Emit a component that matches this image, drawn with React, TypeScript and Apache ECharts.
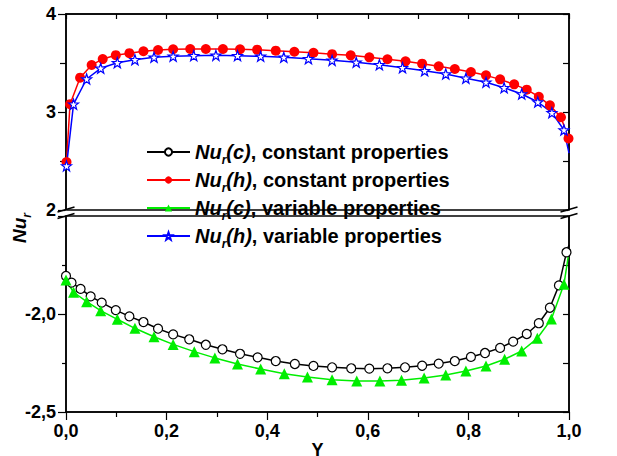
import React, { useEffect, useRef } from "react";
import * as echarts from "echarts";

// Top segment (heating, y from 2 to 4)
const redX = [0.001, 0.008, 0.028, 0.051, 0.073, 0.099, 0.126, 0.154, 0.183, 0.213, 0.247, 0.278, 0.312, 0.346, 0.38, 0.417, 0.454, 0.492, 0.529, 0.566, 0.603, 0.639, 0.675, 0.708, 0.741, 0.773, 0.805, 0.835, 0.863, 0.891, 0.916, 0.94, 0.962, 0.984, 0.999];
const redY = [2.49, 3.08, 3.35, 3.48, 3.54, 3.58, 3.6, 3.62, 3.633, 3.64, 3.643, 3.643, 3.643, 3.64, 3.636, 3.626, 3.615, 3.605, 3.59, 3.578, 3.558, 3.538, 3.517, 3.493, 3.466, 3.439, 3.408, 3.374, 3.333, 3.282, 3.228, 3.156, 3.068, 2.946, 2.73];

const blueX = [0.001, 0.015, 0.041, 0.069, 0.102, 0.137, 0.175, 0.213, 0.254, 0.298, 0.341, 0.387, 0.433, 0.482, 0.529, 0.577, 0.623, 0.669, 0.713, 0.755, 0.795, 0.835, 0.871, 0.906, 0.938, 0.966, 0.99];
const blueY = [2.45, 3.08, 3.337, 3.446, 3.503, 3.534, 3.558, 3.568, 3.575, 3.578, 3.575, 3.568, 3.558, 3.544, 3.527, 3.507, 3.483, 3.452, 3.421, 3.388, 3.344, 3.303, 3.248, 3.184, 3.102, 2.993, 2.816];
const blueEnd = [1.0, 2.58];

// Bottom segment (cooling, y from -2.5 to -1.5)
const blackX = [0.0, 0.011, 0.029, 0.049, 0.071, 0.099, 0.126, 0.154, 0.183, 0.213, 0.245, 0.278, 0.311, 0.346, 0.381, 0.417, 0.455, 0.492, 0.529, 0.567, 0.603, 0.639, 0.674, 0.708, 0.741, 0.773, 0.805, 0.833, 0.863, 0.889, 0.916, 0.94, 0.962, 0.98, 0.995];
const blackY = [-1.806, -1.84, -1.872, -1.91, -1.942, -1.98, -2.012, -2.041, -2.075, -2.104, -2.129, -2.157, -2.18, -2.203, -2.221, -2.24, -2.255, -2.265, -2.272, -2.277, -2.279, -2.277, -2.272, -2.264, -2.253, -2.24, -2.219, -2.199, -2.173, -2.141, -2.102, -2.047, -1.968, -1.854, -1.685];
const blackEnd = [1.0, -1.648];

const greenX = [0.0, 0.015, 0.041, 0.069, 0.102, 0.137, 0.175, 0.213, 0.255, 0.296, 0.341, 0.387, 0.434, 0.48, 0.529, 0.578, 0.624, 0.667, 0.712, 0.755, 0.795, 0.835, 0.872, 0.906, 0.937, 0.965, 0.99];
const greenY = [-1.827, -1.889, -1.937, -1.983, -2.027, -2.073, -2.116, -2.155, -2.192, -2.224, -2.255, -2.281, -2.305, -2.321, -2.335, -2.342, -2.342, -2.338, -2.327, -2.311, -2.291, -2.265, -2.231, -2.189, -2.124, -2.026, -1.848];
const greenEnd = [1.0, -1.682];

const seriesNames = [
  "Nur(c), constant properties",
  "Nur(h), constant properties",
  "Nur(c), variable properties",
  "Nur(h), variable properties",
];
const legendRich = [
  ["(c)", "constant properties"],
  ["(h)", "constant properties"],
  ["(c)", "variable properties"],
  ["(h)", "variable properties"],
];

const FONT = "'Liberation Sans', Arial, Helvetica, sans-serif";
const STAR = "path://M10 0 L12.35 6.76 L19.51 6.91 L13.8 11.24 L15.88 18.09 L10 14 L4.12 18.09 L6.2 11.24 L0.49 6.91 L7.65 6.76 Z";

function pts(xs: number[], ys: number[], end?: number[]) {
  const d: any[] = xs.map((x, i) => [x, ys[i]]);
  if (end) d.push({ value: end, symbol: "none" });
  return d;
}

const comma = (v: number) => v.toFixed(1).replace(".", ",");

export default function App() {
  const ref = useRef<HTMLDivElement>(null);
  useEffect(() => {
    if (!ref.current) return;
    const chart = echarts.init(ref.current, undefined, { renderer: "svg" });
    const axisLine = () => ({ show: true, onZero: false, lineStyle: { color: "#000", width: 1.5 } });
    const tick = (inside: boolean, length: number) => ({ show: true, inside, length, lineStyle: { color: "#000", width: 1.2 } });
    const minor = (length: number) => ({ show: true, splitNumber: 2, length, lineStyle: { color: "#000", width: 1.2 } });
    const labelStyle = () => ({ color: "#000", fontFamily: FONT, fontWeight: "bold" as const, fontSize: 18 });
    const L = 66, R = 569;
    const T1 = 14, B1 = 210, T2 = 216, B2 = 412;
    const W = 1.5;
    // frame: a black panel with a white panel inset on top of it
    const panel = (top: number, bottom: number) => [
      { type: "rect", shape: { x: L - W / 2, y: top - W / 2, width: R - L + W, height: bottom - top + W }, style: { fill: "#000" }, z: -10 },
      { type: "rect", shape: { x: L + W / 2, y: top + W / 2, width: R - L - W, height: bottom - top - W }, style: { fill: "#fff" }, z: -9 },
    ];
    const slash = (cx: number, cy: number) => ({
      type: "line",
      shape: { x1: cx - 8.5, y1: cy + 2.5, x2: cx + 8.5, y2: cy - 2.5 },
      style: { stroke: "#000", lineWidth: 1.5 },
      z: 100,
    });
    chart.setOption({
      animation: false,
      backgroundColor: "#fff",
      grid: [
        { left: L, right: 617 - R, top: T1, height: B1 - T1, outerBoundsMode: "none", containLabel: false },
        { left: L, right: 617 - R, top: T2, height: B2 - T2, outerBoundsMode: "none", containLabel: false },
      ],
      xAxis: [
        {
          gridIndex: 0, type: "value", position: "top", min: 0, max: 1, interval: 0.2,
          axisLine: axisLine(), axisLabel: { show: false }, splitLine: { show: false },
          axisTick: tick(true, 5), minorTick: minor(5),
        },
        {
          gridIndex: 1, type: "value", position: "bottom", min: 0, max: 1, interval: 0.2,
          axisLine: axisLine(), splitLine: { show: false },
          axisLabel: { ...labelStyle(), margin: 10, formatter: comma },
          axisTick: tick(false, 8), minorTick: minor(5),
          name: "Y", nameLocation: "middle", nameGap: 19,
          nameTextStyle: { ...labelStyle(), fontSize: 18, lineHeight: 18 },
        },
      ],
      yAxis: [
        {
          gridIndex: 0, type: "value", position: "left", min: 2, max: 4, interval: 1,
          axisLine: axisLine(), splitLine: { show: false },
          axisLabel: { ...labelStyle(), margin: 10, formatter: (v: number) => String(v) },
          axisTick: tick(false, 8), minorTick: minor(6),
        },
        {
          gridIndex: 0, type: "value", position: "right", min: 2, max: 4, interval: 1,
          axisLine: axisLine(), splitLine: { show: false }, axisLabel: { show: false },
          axisTick: tick(true, 6), minorTick: minor(6),
        },
        {
          gridIndex: 1, type: "value", position: "left", min: -2.5, max: -1.5, interval: 0.5,
          axisLine: axisLine(), splitLine: { show: false },
          axisLabel: { ...labelStyle(), margin: 10, formatter: (v: number) => (v > -1.6 ? "" : comma(v)) },
          axisTick: tick(false, 8), minorTick: minor(4),
        },
        {
          gridIndex: 1, type: "value", position: "right", min: -2.5, max: -1.5, interval: 0.5,
          axisLine: axisLine(), splitLine: { show: false }, axisLabel: { show: false },
          axisTick: tick(true, 6), minorTick: minor(6),
        },
      ],
      legend: {
        orient: "vertical", left: 141, top: 137, itemWidth: 43, itemHeight: 9, itemGap: 4,
        data: seriesNames,
        formatter: (name: string) => {
          const i = seriesNames.indexOf(name);
          return `{i|Nu}{s|r}{i|${legendRich[i][0]}}{b|, ${legendRich[i][1]}}`;
        },
        textStyle: {
          color: "#000",
          rich: {
            i: { fontFamily: FONT, fontWeight: "bold", fontStyle: "italic", fontSize: 20, color: "#000", lineHeight: 22 },
            s: { fontFamily: FONT, fontWeight: "bold", fontStyle: "italic", fontSize: 12, color: "#000", verticalAlign: "bottom", lineHeight: 22, padding: [0, 0, -3, 0] },
            b: { fontFamily: FONT, fontWeight: "bold", fontSize: 20, color: "#000", lineHeight: 22 },
          },
        },
      },
      graphic: [
        ...panel(T1, B1),
        ...panel(T2, B2),
        { type: "rect", shape: { x: L - 1, y: B1 + W / 2, width: 2, height: T2 - B1 - W }, style: { fill: "#fff" }, z: 99 },
        { type: "rect", shape: { x: R - 1, y: B1 + W / 2, width: 2, height: T2 - B1 - W }, style: { fill: "#fff" }, z: 99 },
        slash(L, 209.5), slash(L, 216),
        slash(R, 209.5), slash(R, 216),
        {
          type: "text", x: 19, y: 228, rotation: Math.PI / 2, z: 100,
          style: {
            text: "{i|Nu}{s|r}", align: "center", verticalAlign: "middle",
            rich: {
              i: { fontFamily: FONT, fontWeight: "bold", fontStyle: "italic", fontSize: 19, fill: "#000", lineHeight: 22 },
              s: { fontFamily: FONT, fontWeight: "bold", fontStyle: "italic", fontSize: 12, fill: "#000", verticalAlign: "bottom", lineHeight: 22, padding: [0, 0, -3, 0] },
            },
          },
        },
      ],
      series: [
        {
          name: seriesNames[0], type: "line", xAxisIndex: 1, yAxisIndex: 2,
          data: pts(blackX, blackY, blackEnd), symbol: "circle", symbolSize: 9,
          lineStyle: { color: "#000", width: 1.5 },
          itemStyle: { color: "#fff", borderColor: "#000", borderWidth: 1.2 },
        },
        {
          name: seriesNames[1], type: "line", xAxisIndex: 0, yAxisIndex: 0,
          data: pts(redX, redY), symbol: "circle", symbolSize: 10,
          lineStyle: { color: "#ff0000", width: 1.5 },
          itemStyle: { color: "#ff0000" },
        },
        {
          name: seriesNames[2], type: "line", xAxisIndex: 1, yAxisIndex: 2,
          data: pts(greenX, greenY, greenEnd), symbol: "triangle", symbolSize: 11,
          lineStyle: { color: "#00ee00", width: 1.5 },
          itemStyle: { color: "#00ee00" },
        },
        {
          name: seriesNames[3], type: "line", xAxisIndex: 0, yAxisIndex: 0,
          data: pts(blueX, blueY, blueEnd), symbol: STAR, symbolSize: 10,
          lineStyle: { color: "#0000ff", width: 1.5 },
          itemStyle: { color: "#fff", borderColor: "#0000ff", borderWidth: 1.2 },
        },
      ],
    });
    return () => chart.dispose();
  }, []);
  return <div ref={ref} style={{ position: "fixed", left: 0, top: 0, width: 617, height: 456 }} />;
}
